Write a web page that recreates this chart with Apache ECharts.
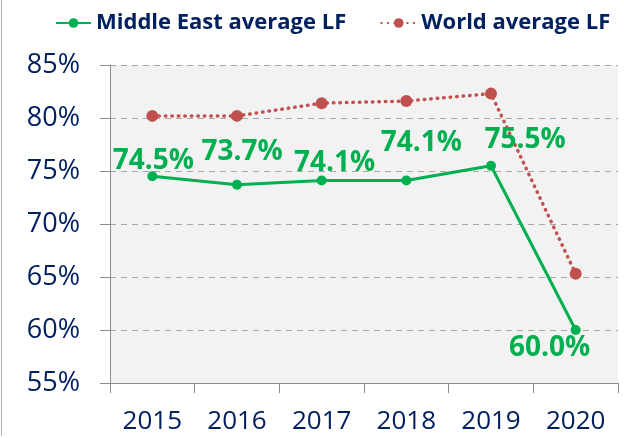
<!DOCTYPE html>
<html>
<head>
<meta charset="utf-8">
<script src="https://cdn.jsdelivr.net/npm/echarts@6/dist/echarts.min.js"></script>
<style>
  html, body { margin: 0; padding: 0; background: #fff; }
  #chart { width: 624px; height: 438px; }
</style>
</head>
<body>
<div id="chart"></div>
<script>
  const years = ['2015', '2016', '2017', '2018', '2019', '2020']
  const middleEast = [74.5, 73.7, 74.1, 74.1, 75.5, 60.0]
  const world = [80.2, 80.2, 81.4, 81.6, 82.3, 65.3]
  const yTicks = [55, 60, 65, 70, 75, 80, 85]

  // where each green label sits, relative to its point
  const labelShift = [[1, -15], [5, -33], [13, -18], [15, -38], [34, -26], [-26, 18]]

  const navy = '#002060'
  const green = '#00b050'
  const red = '#c0504d'
  const font = '"Open Sans", sans-serif'

  const chart = echarts.init(document.getElementById('chart'))

  chart.setOption({
    animation: false,
    textStyle: { fontFamily: font },
    legend: {
      left: 50,
      top: 7,
      width: 574,
      itemWidth: 35,
      itemHeight: 12,
      itemGap: 34,
      textStyle: { color: navy, fontSize: 22, fontWeight: 'bold', fontFamily: font },
      data: ['Middle East average LF', 'World average LF'],
    },
    grid: {
      left: 110,
      right: 6,
      top: 65,
      bottom: 55,
      show: true,
      backgroundColor: '#f2f2f2',
      borderWidth: 0,
    },
    xAxis: {
      type: 'category',
      data: years,
      boundaryGap: true,
      axisLine: { lineStyle: { color: '#8c8c8c', width: 1 } },
      axisTick: { show: true, length: 10, lineStyle: { color: '#8c8c8c' } },
      axisLabel: { color: navy, fontSize: 26, margin: 26, fontFamily: font },
    },
    yAxis: {
      type: 'value',
      min: yTicks[0],
      max: yTicks[yTicks.length - 1],
      interval: 5,
      axisLine: { show: true, lineStyle: { color: '#8c8c8c', width: 1 } },
      axisTick: { show: true, length: 10, lineStyle: { color: '#8c8c8c' } },
      axisLabel: { color: navy, fontSize: 27, margin: 30, formatter: '{value}%', fontFamily: font },
      splitLine: { lineStyle: { color: '#a6a6a6', type: [6, 5], width: 1 } },
    },
    series: [
      {
        name: 'World average LF',
        type: 'line',
        data: world,
        symbol: 'circle',
        symbolSize: 12,
        itemStyle: { color: red },
        lineStyle: { color: red, width: 3.5, type: [0.5, 6], cap: 'round' },
        z: 2,
      },
      {
        name: 'Middle East average LF',
        type: 'line',
        data: middleEast.map((v, i) => ({
          value: v,
          label: { offset: labelShift[i] },
        })),
        symbol: 'circle',
        symbolSize: 10,
        itemStyle: { color: green },
        lineStyle: { color: green, width: 3 },
        label: {
          show: true,
          position: 'inside',
          color: green,
          fontSize: 28,
          fontWeight: 'bold',
          fontFamily: font,
          formatter: p => p.value.toFixed(1) + '%',
        },
        z: 3,
      },
    ],
    graphic: [
      {
        type: 'line',
        shape: { x1: 1.5, y1: 0, x2: 1.5, y2: 436 },
        style: { stroke: '#b0b0b0', lineWidth: 1 },
        silent: true,
      },
    ],
  })
</script>
</body>
</html>
